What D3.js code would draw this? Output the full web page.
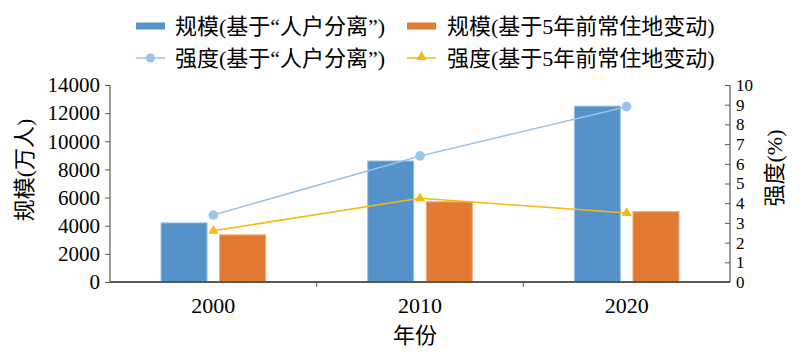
<!DOCTYPE html>
<html><head><meta charset="utf-8">
<script src="https://cdn.jsdelivr.net/npm/d3@7"></script>
<style>
body{margin:0;background:#fff;}
text{font-family:"Liberation Serif","Noto Sans CJK SC",serif;fill:#000;}
</style></head>
<body><svg id="c" width="809" height="357"></svg>
<script>
const years = ["2000","2010","2020"];
const scaleHuhu = [4200, 8600, 12500];
const scaleFive = [3350, 5700, 5000];
const intenHuhu = [3.4, 6.4, 8.9];
const intenFive = [2.6, 4.25, 3.5];
const leftTicks = [0,2000,4000,6000,8000,10000,12000,14000];
const rightTicks = [0,1,2,3,4,5,6,7,8,9,10];
const names = ["规模(基于“人户分离”)","规模(基于5年前常住地变动)","强度(基于“人户分离”)","强度(基于5年前常住地变动)"];

const C = {blue:"#5592c9", orange:"#e27a33", lblue:"#9dc3e6", yellow:"#f7b90d"};
const svg = d3.select("#c");
const L=110, R=730, T=85, B=282;
const x = d3.scaleBand().domain(years).range([L,R]);
const yL = d3.scaleLinear().domain([0,14000]).range([B,T]);
const yR = d3.scaleLinear().domain([0,10]).range([B,T]);
const bw = 46, off = 29.3;

// bars
const g = svg.append("g");
g.selectAll(".b1").data(years).join("rect")
 .attr("x", (d,i)=>x(d)+x.bandwidth()/2-off-bw/2).attr("width",bw)
 .attr("y",(d,i)=>yL(scaleHuhu[i])).attr("height",(d,i)=>B-yL(scaleHuhu[i]))
 .attr("fill",C.blue).attr("stroke","#9cc0e2").attr("stroke-width",1);
g.selectAll(".b2").data(years).join("rect")
 .attr("x", (d,i)=>x(d)+x.bandwidth()/2+off-bw/2).attr("width",bw)
 .attr("y",(d,i)=>yL(scaleFive[i])).attr("height",(d,i)=>B-yL(scaleFive[i]))
 .attr("fill",C.orange).attr("stroke","#f0a878").attr("stroke-width",1);

// axes
const axL = svg.append("g").attr("transform",`translate(${L},0)`)
 .call(d3.axisLeft(yL).tickValues(leftTicks).tickSize(5).tickPadding(5).tickFormat(d3.format("d")));
const axR = svg.append("g").attr("transform",`translate(${R},0)`)
 .call(d3.axisRight(yR).tickValues(rightTicks).tickSize(-5).tickPadding(6).tickFormat(d3.format("d")));
const axX = svg.append("g").attr("transform",`translate(0,${B})`)
 .call(d3.axisBottom(x).tickSize(0).tickPadding(15));
[axL,axR,axX].forEach(a=>{
  a.selectAll("text").style("font-size","21px").attr("fill","#000");
  a.selectAll("line,path").attr("stroke","#595959");
  a.select(".domain").attr("stroke-width",1.2);
});
axX.selectAll("text").style("font-size","22px");
axR.selectAll("text").style("font-size","17px").style("font-weight","500");
axL.select(".domain").attr("d",`M0,${T}V${B}`);
axR.select(".domain").attr("d",`M0,${T}V${B}`);
axX.select(".domain").attr("d",`M${L},0H${R}`).attr("stroke-width",2);
// category boundary ticks
axX.selectAll(".sep").data(years.slice(1)).join("line")
 .attr("x1",d=>x(d)).attr("x2",d=>x(d)).attr("y1",0).attr("y2",5).attr("stroke","#595959");

// lines
const px = d=>x(d)+x.bandwidth()/2;
const line1 = d3.line().x((d,i)=>px(years[i])).y(d=>yR(d));
svg.append("path").datum(intenHuhu).attr("d",line1).attr("fill","none").attr("stroke",C.lblue).attr("stroke-width",1.5);
svg.append("path").datum(intenFive).attr("d",line1).attr("fill","none").attr("stroke",C.yellow).attr("stroke-width",1.5);
svg.selectAll(".c1").data(intenHuhu).join("circle")
 .attr("cx",(d,i)=>px(years[i])).attr("cy",d=>yR(d)).attr("r",4.8).attr("fill",C.lblue);
const tri = d3.symbol().type(d3.symbolTriangle).size(45);
svg.selectAll(".t1").data(intenFive).join("path")
 .attr("d",tri).attr("transform",(d,i)=>`translate(${px(years[i])},${yR(d)})`).attr("fill",C.yellow);

// axis titles
svg.append("text").attr("transform","translate(32,170) rotate(-90)").attr("text-anchor","middle")
 .style("font-size","22px").text("规模(万人)");
svg.append("text").attr("transform","translate(782,168) rotate(-90)").attr("text-anchor","middle")
 .style("font-size","22px").text("强度(%)");
svg.append("text").attr("x",415).attr("y",343).attr("text-anchor","middle")
 .style("font-size","22px").text("年份");

// legend
const lg = svg.append("g");
const lx = [136,407], ly=[26,58];
lg.append("rect").attr("x",lx[0]).attr("y",ly[0]-3.5).attr("width",29).attr("height",7).attr("fill",C.blue);
lg.append("rect").attr("x",lx[1]).attr("y",ly[0]-3.5).attr("width",29).attr("height",7).attr("fill",C.orange);
lg.append("line").attr("x1",lx[0]).attr("x2",lx[0]+29).attr("y1",ly[1]).attr("y2",ly[1]).attr("stroke",C.lblue).attr("stroke-width",1.5);
lg.append("circle").attr("cx",lx[0]+14.5).attr("cy",ly[1]).attr("r",4.5).attr("fill",C.lblue);
lg.append("line").attr("x1",lx[1]).attr("x2",lx[1]+29).attr("y1",ly[1]).attr("y2",ly[1]).attr("stroke",C.yellow).attr("stroke-width",1.5);
lg.append("path").attr("d",tri).attr("transform",`translate(${lx[1]+14.5},${ly[1]-1})`).attr("fill",C.yellow);
const tx=[175,447];
names.forEach((n,i)=>{
  lg.append("text").attr("x",tx[i%2]).attr("y",ly[Math.floor(i/2)]).attr("dy","0.35em")
   .style("font-size","22px").text(n);
});
</script></body></html>
